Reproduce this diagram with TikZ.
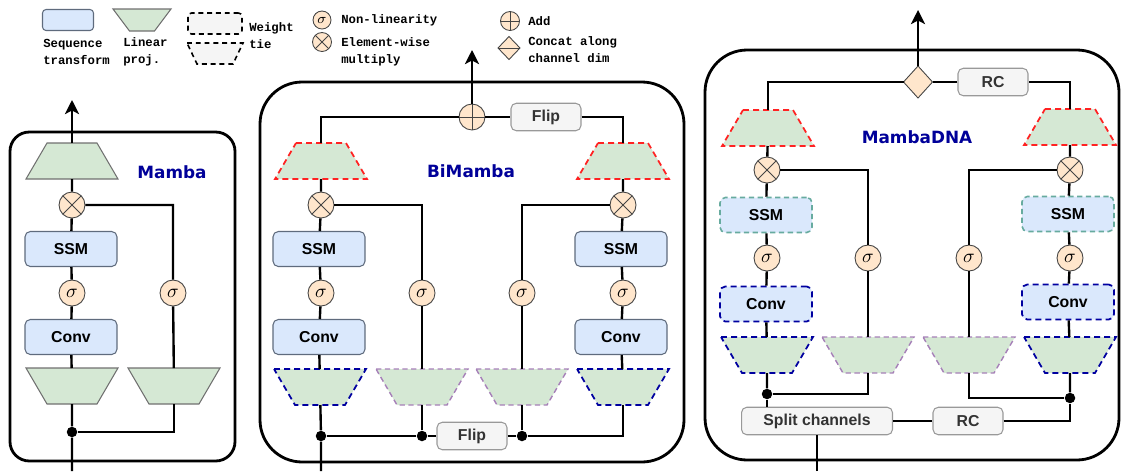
\documentclass[tikz,border=0pt]{standalone}
\usepackage{fontspec}
\setmainfont{Liberation Sans}
\newfontfamily\legendfont{Liberation Mono}
\newfontfamily\titlefont{DejaVu Sans}
\usetikzlibrary{arrows.meta}

\definecolor{seqfill}{HTML}{DAE8FC}
\definecolor{seqline}{HTML}{5F6B7D}
\definecolor{linfill}{HTML}{D5E8D4}
\definecolor{linline}{HTML}{707070}
\definecolor{opfill}{HTML}{FFE6CC}
\definecolor{opline}{HTML}{444444}
\definecolor{grayfill}{HTML}{F5F5F5}
\definecolor{grayline}{HTML}{999999}
\definecolor{graytext}{HTML}{333333}
\definecolor{tiered}{HTML}{FF2222}
\definecolor{tienavy}{HTML}{0000A0}
\definecolor{tiepurple}{HTML}{A680B8}
\definecolor{tieteal}{HTML}{67AB9F}
\definecolor{titleblue}{HTML}{000099}

\tikzset{
  seq node/.style={draw=seqline, fill=seqfill, rounded corners=3pt, line width=0.6pt,
    minimum width=1.84cm, minimum height=0.7cm, inner sep=0pt,
    font=\bfseries\fontsize{9}{10}\selectfont},
  lin box/.style={minimum width=1.84cm, minimum height=0.72cm, inner sep=0pt, outer sep=0pt},
  lin look/.style={draw=linline, fill=linfill, line width=0.6pt},
  red tie/.style={draw=tiered, line width=1pt, dash pattern=on 3.4pt off 2.3pt},
  navy tie/.style={draw=tienavy, line width=1pt, dash pattern=on 3.4pt off 2.3pt},
  purple tie/.style={draw=tiepurple, line width=0.8pt, dash pattern=on 3pt off 2pt},
  teal tie/.style={draw=tieteal, line width=0.9pt, dash pattern=on 3pt off 2pt},
  sig node/.style={circle, draw=opline, fill=opfill, line width=0.5pt, minimum size=0.52cm,
    inner sep=0pt, font=\fontsize{11}{11}\selectfont},
  mul node/.style={circle, draw=opline, fill=opfill, line width=0.5pt, minimum size=0.52cm,
    inner sep=0pt, path picture={
      \draw[opline, line width=0.5pt] (path picture bounding box.north west) -- (path picture bounding box.south east)
        (path picture bounding box.north east) -- (path picture bounding box.south west);}},
  add node/.style={circle, draw=opline, fill=opfill, line width=0.5pt, minimum size=0.52cm,
    inner sep=0pt, path picture={
      \draw[opline, line width=0.5pt] (path picture bounding box.north) -- (path picture bounding box.south)
        (path picture bounding box.west) -- (path picture bounding box.east);}},
  cat box/.style={minimum width=0.58cm, minimum height=0.64cm, inner sep=0pt, outer sep=0pt},
  cat look/.style={draw=opline, fill=opfill, line width=0.5pt},
  gray node/.style={draw=grayline, fill=grayfill, rounded corners=3pt, line width=0.6pt,
    text=graytext, font=\bfseries\fontsize{9}{10}\selectfont, inner sep=0pt,
    minimum width=1.4cm, minimum height=0.55cm},
  panel/.style={line width=1.6pt, rounded corners=24pt},
  wire/.style={line width=1.35pt},
  tip/.style={-{Stealth[length=8pt, width=8pt, inset=2pt]}},
  dot/.style={circle, fill=black, inner sep=0pt, minimum size=0.21cm},
  title/.style={text=titleblue, font=\titlefont\bfseries\fontsize{9.6}{10}\selectfont},
  legend text/.style={font=\legendfont\bfseries\fontsize{7}{9.6}\selectfont, align=left, anchor=west, inner sep=0pt}
}

% linear projection, wide bottom / wide top
\newcommand{\linup}[3]{%
  \node[lin box] (#1) at (#2) {};
  \draw[lin look, #3] ([xshift=0.42cm]#1.north west) -- ([xshift=-0.42cm]#1.north east)
    -- (#1.south east) -- (#1.south west) -- cycle;}
\newcommand{\lindown}[3]{%
  \node[lin box] (#1) at (#2) {};
  \draw[lin look, #3] (#1.north west) -- (#1.north east)
    -- ([xshift=-0.42cm]#1.south east) -- ([xshift=0.42cm]#1.south west) -- cycle;}
% concat diamond
\newcommand{\concat}[2]{%
  \node[cat box] (#1) at (#2) {};
  \draw[cat look] (#1.north) -- (#1.east) -- (#1.south) -- (#1.west) -- cycle;}

\begin{document}
\begin{tikzpicture}[x=0.02cm, y=-0.02cm]
\useasboundingbox (0,0) rectangle (1121,471);

% legend
\node[seq node, minimum width=1.02cm, minimum height=0.42cm, rounded corners=2pt] (lgSeq) at (68,20) {};
\node[legend text] (lgSeqTxt) at (43,52) {Sequence\\transform};
\node[lin box, minimum width=1.16cm, minimum height=0.44cm] (lgLin) at (142,20) {};
\draw[lin look] (lgLin.north west) -- (lgLin.north east) -- ([xshift=-0.33cm]lgLin.south east)
  -- ([xshift=0.33cm]lgLin.south west) -- cycle;
\node[legend text] (lgLinTxt) at (123,52) {Linear\\proj.};
\node[draw=black, fill=grayfill, rounded corners=2pt, line width=0.9pt, dash pattern=on 2.8pt off 2.2pt,
  minimum width=1.08cm, minimum height=0.42cm, inner sep=0pt] (lgTieBox) at (215,23.5) {};
\node[lin box, minimum width=1.12cm, minimum height=0.42cm] (lgTieLin) at (215,53.5) {};
\draw[draw=black, fill=grayfill, line width=0.9pt, dash pattern=on 2.8pt off 2.2pt]
  (lgTieLin.north west) -- (lgTieLin.north east) -- ([xshift=-0.2cm]lgTieLin.south east)
  -- ([xshift=0.2cm]lgTieLin.south west) -- cycle;
\node[legend text] (lgTieTxt) at (249,35.5) {Weight\\tie};
\node[sig node, minimum size=0.36cm, font=\fontsize{8}{8}\selectfont] (lgSig) at (322,20) {$\sigma$};
\node[legend text] (lgSigTxt) at (341,20) {Non-linearity};
\node[mul node, minimum size=0.38cm] (lgMul) at (322,42) {};
\node[legend text] (lgMulTxt) at (341,51.5) {Element-wise\\multiply};
\node[add node, minimum size=0.38cm] (lgAdd) at (510,21) {};
\node[legend text] (lgAddTxt) at (528,21) {Add};
\node[cat box, minimum width=0.44cm, minimum height=0.46cm] (lgCat) at (509,48) {};
\draw[cat look] (lgCat.north) -- (lgCat.east) -- (lgCat.south) -- (lgCat.west) -- cycle;
\draw[opline, line width=0.5pt] (lgCat.west) -- (lgCat.east);
\node[legend text] (lgCatTxt) at (528,50) {Concat along\\channel dim};

% Mamba
\draw[panel, rounded corners=11pt] (10,132) rectangle (235,461);
\linup{mOut}{72,161}{}
\node[title] (mTitle) at (172,172) {Mamba};
\node[mul node] (mMul) at (72,205) {};
\node[seq node] (mSsm) at (71,249) {SSM};
\node[sig node] (mSigA) at (72,293) {$\sigma$};
\node[sig node] (mSigB) at (173,293) {$\sigma$};
\node[seq node] (mConv) at (71,337) {Conv};
\lindown{mInA}{72,386}{}
\lindown{mInB}{174,386}{}
\node[dot] (mSplit) at (72,432) {};
\coordinate (mIn) at (72,471);
\coordinate (mTop) at (72,100);
\draw[wire] (mIn) -- (mSplit) -- (mInA) -- (mConv) -- (mSigA) -- (mSsm) -- (mMul) -- (mOut);
\draw[wire] (mSplit) -| (mInB);
\draw[wire] (mInB) -- (mSigB) |- (mMul);
\draw[wire, tip] (mOut) -- (mTop);

% BiMamba
\draw[panel] (260,82) rectangle (684,462);
\node[add node] (bAdd) at (472,117) {};
\node[gray node] (bFlipT) at (546,117) {Flip};
\linup{bOutL}{321,161}{red tie}
\linup{bOutR}{623,161}{red tie}
\node[title] (bTitle) at (471,171) {BiMamba};
\node[mul node] (bMulL) at (321,205) {};
\node[mul node] (bMulR) at (623,205) {};
\node[seq node] (bSsmL) at (319,249) {SSM};
\node[seq node] (bSsmR) at (621,249) {SSM};
\node[sig node] (bSigL) at (321,293) {$\sigma$};
\node[sig node] (bSigML) at (422,293) {$\sigma$};
\node[sig node] (bSigMR) at (522,293) {$\sigma$};
\node[sig node] (bSigR) at (623,293) {$\sigma$};
\node[seq node] (bConvL) at (319,337) {Conv};
\node[seq node] (bConvR) at (621,337) {Conv};
\lindown{bInL}{320,387}{navy tie}
\lindown{bInML}{422,387}{purple tie}
\lindown{bInMR}{522,387}{purple tie}
\lindown{bInR}{623,387}{navy tie}
\node[dot] (bDotL) at (321,436) {};
\node[dot] (bDotML) at (422,436) {};
\node[dot] (bDotMR) at (522,436) {};
\node[gray node] (bFlipB) at (472,436) {Flip};
\coordinate (bIn) at (321,471);
\coordinate (bTop) at (472,50);
\draw[wire] (bIn) -- (bDotL) -- (bInL) -- (bConvL) -- (bSigL) -- (bSsmL) -- (bMulL) -- (bOutL);
\draw[wire] (bOutL) |- (bAdd) -- (bFlipT) -| (bOutR);
\draw[wire, tip] (bAdd) -- (bTop);
\draw[wire] (bDotL) -- (bDotML) -- (bFlipB) -- (bDotMR) -| (bInR);
\draw[wire] (bDotML) -- (bInML) -- (bSigML) |- (bMulL);
\draw[wire] (bDotMR) -- (bInMR) -- (bSigMR) |- (bMulR);
\draw[wire] (bInR) -- (bConvR) -- (bSigR) -- (bSsmR) -- (bMulR) -- (bOutR);

% MambaDNA
\draw[panel] (705,50) rectangle (1119,460);
\concat{dCat}{918,82}
\node[gray node] (dRcT) at (993,82) {RC};
\linup{dOutL}{768,128}{red tie}
\linup{dOutR}{1070,127}{red tie}
\node[title] (dTitle) at (917,137) {MambaDNA};
\node[mul node] (dMulL) at (767,170) {};
\node[mul node] (dMulR) at (1070,170) {};
\node[seq node, teal tie] (dSsmL) at (766,215) {SSM};
\node[seq node, teal tie] (dSsmR) at (1068,214) {SSM};
\node[sig node] (dSigL) at (767,258) {$\sigma$};
\node[sig node] (dSigML) at (868,258) {$\sigma$};
\node[sig node] (dSigMR) at (969,258) {$\sigma$};
\node[sig node] (dSigR) at (1070,258) {$\sigma$};
\node[seq node, navy tie] (dConvL) at (766,304) {Conv};
\node[seq node, navy tie] (dConvR) at (1068,302) {Conv};
\lindown{dInL}{767,355}{navy tie}
\lindown{dInML}{868,355}{purple tie}
\lindown{dInMR}{969,355}{purple tie}
\lindown{dInR}{1070,355}{navy tie}
\node[dot] (dDotL) at (767,394) {};
\node[dot] (dDotR) at (1070,398) {};
\node[gray node, minimum width=3.02cm] (dSplit) at (817,421) {Split channels};
\node[gray node] (dRcB) at (968,421) {RC};
\coordinate (dIn) at (817,471);
\coordinate (dTop) at (918,10);
\draw[wire] (dIn) -- (dSplit);
\draw[wire] (dDotL) -- (dDotL |- dSplit.north);
\draw[wire] (dSplit) -- (dRcB) -| (dDotR);
\draw[wire] (dDotL) -- (dInL) -- (dConvL) -- (dSigL) -- (dSsmL) -- (dMulL) -- (dOutL);
\draw[wire] (dDotR) -- (dInR) -- (dConvR) -- (dSigR) -- (dSsmR) -- (dMulR) -- (dOutR);
\draw[wire] (dOutL) |- (dCat);
\draw[wire] (dOutR) |- (dRcT) -- (dCat);
\draw[wire, tip] (dCat) -- (dTop);
\draw[wire] (dInML) |- (dDotL);
\draw[wire] (dInML) -- (dSigML) |- (dMulL);
\draw[wire] (dInMR) |- (dDotR);
\draw[wire] (dInMR) -- (dSigMR) |- (dMulR);
\end{tikzpicture}
\end{document}
